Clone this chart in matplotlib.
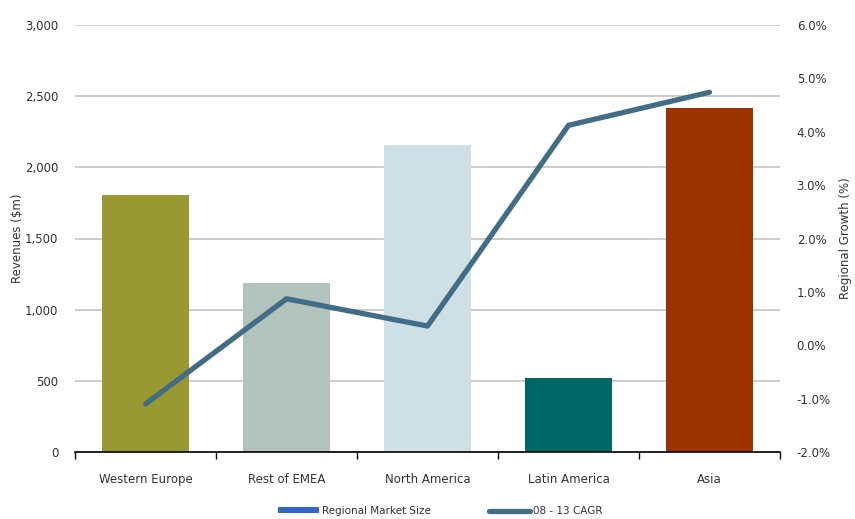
import matplotlib
matplotlib.use("Agg")
import matplotlib.pyplot as plt
import numpy as np
from matplotlib.patches import Patch
from matplotlib.lines import Line2D
from matplotlib.ticker import FuncFormatter

categories = ["Western Europe", "Rest of EMEA", "North America", "Latin America", "Asia"]
revenues = [1805, 1190, 2155, 520, 2420]
cagr = [-1.10, 0.87, 0.36, 4.12, 4.74]
bar_colors = ["#999933", "#b2c2bc", "#cfdfe6", "#006666", "#993300"]

plt.rcParams['font.family'] = ['DejaVu Sans']
fig = plt.figure(figsize=(8.55, 5.19), dpi=100)
ax = fig.add_axes([75/855, 1-452/519, 705/855, 427/519])
x = np.arange(len(categories))
ax.bar(x, revenues, width=0.62, color=bar_colors, zorder=2)
ax.set_xlim(-0.5, len(categories)-0.5)
ax.set_ylim(0, 3000)
ax.set_yticks(np.arange(0, 3001, 500))
ax.yaxis.set_major_formatter(FuncFormatter(lambda v, p: f"{int(v):,}"))
ax.grid(axis='y', color='#c8c8c8', linewidth=1.3, zorder=0)
ax.set_axisbelow(True)
for s in ['top', 'left', 'right']:
    ax.spines[s].set_visible(False)
ax.spines['bottom'].set_color('black')
ax.spines['bottom'].set_linewidth(1.2)
ax.spines['bottom'].set_zorder(5)
ax.set_xticks(np.arange(-0.5, len(categories), 1.0))
ax.set_xticklabels([])
ax.set_xticks(x, minor=True)
ax.set_xticklabels(categories, minor=True)
ax.tick_params(axis='x', which='major', length=5, width=1, color='black', direction='out')
ax.tick_params(axis='x', which='minor', length=0, pad=15, labelsize=8.5, labelcolor='#333333')
ax.tick_params(axis='y', length=0, pad=12, labelsize=8.5, labelcolor='#333333')
ax.set_ylabel("Revenues ($m)", fontsize=8.5, color='#333333')
ax.yaxis.set_label_coords(-0.072, 0.5)

ax2 = ax.twinx()
ax2.plot(x, cagr, color='#426d87', linewidth=3.8, solid_capstyle='round', zorder=3)
ax2.set_ylim(-2, 6)
ax2.set_yticks(np.arange(-2, 6.01, 1))
ax2.yaxis.set_major_formatter(FuncFormatter(lambda v, p: f"{v:.1f}%"))
for s in ['top', 'left', 'right', 'bottom']:
    ax2.spines[s].set_visible(False)
ax2.tick_params(axis='y', length=0, pad=12, labelsize=8.5, labelcolor='#333333')
ax2.set_ylabel("Regional Growth (%)", fontsize=8.5, color='#333333')
ax2.yaxis.set_label_coords(1.084, 0.5)

handles = [Patch(facecolor='#3366cc', edgecolor='none', label='Regional Market Size'),
           Line2D([0], [0], color='#426d87', linewidth=3.8, solid_capstyle='round', label='08 - 13 CAGR')]
fig.legend(handles=handles, loc='center', bbox_to_anchor=(0.515, 1-511/519), ncol=2,
           frameon=False, fontsize=7.5, handlelength=4.0, handleheight=0.5,
           columnspacing=5.5, handletextpad=0.3, labelcolor='#333333')

fig.savefig("out.png", dpi=100)
